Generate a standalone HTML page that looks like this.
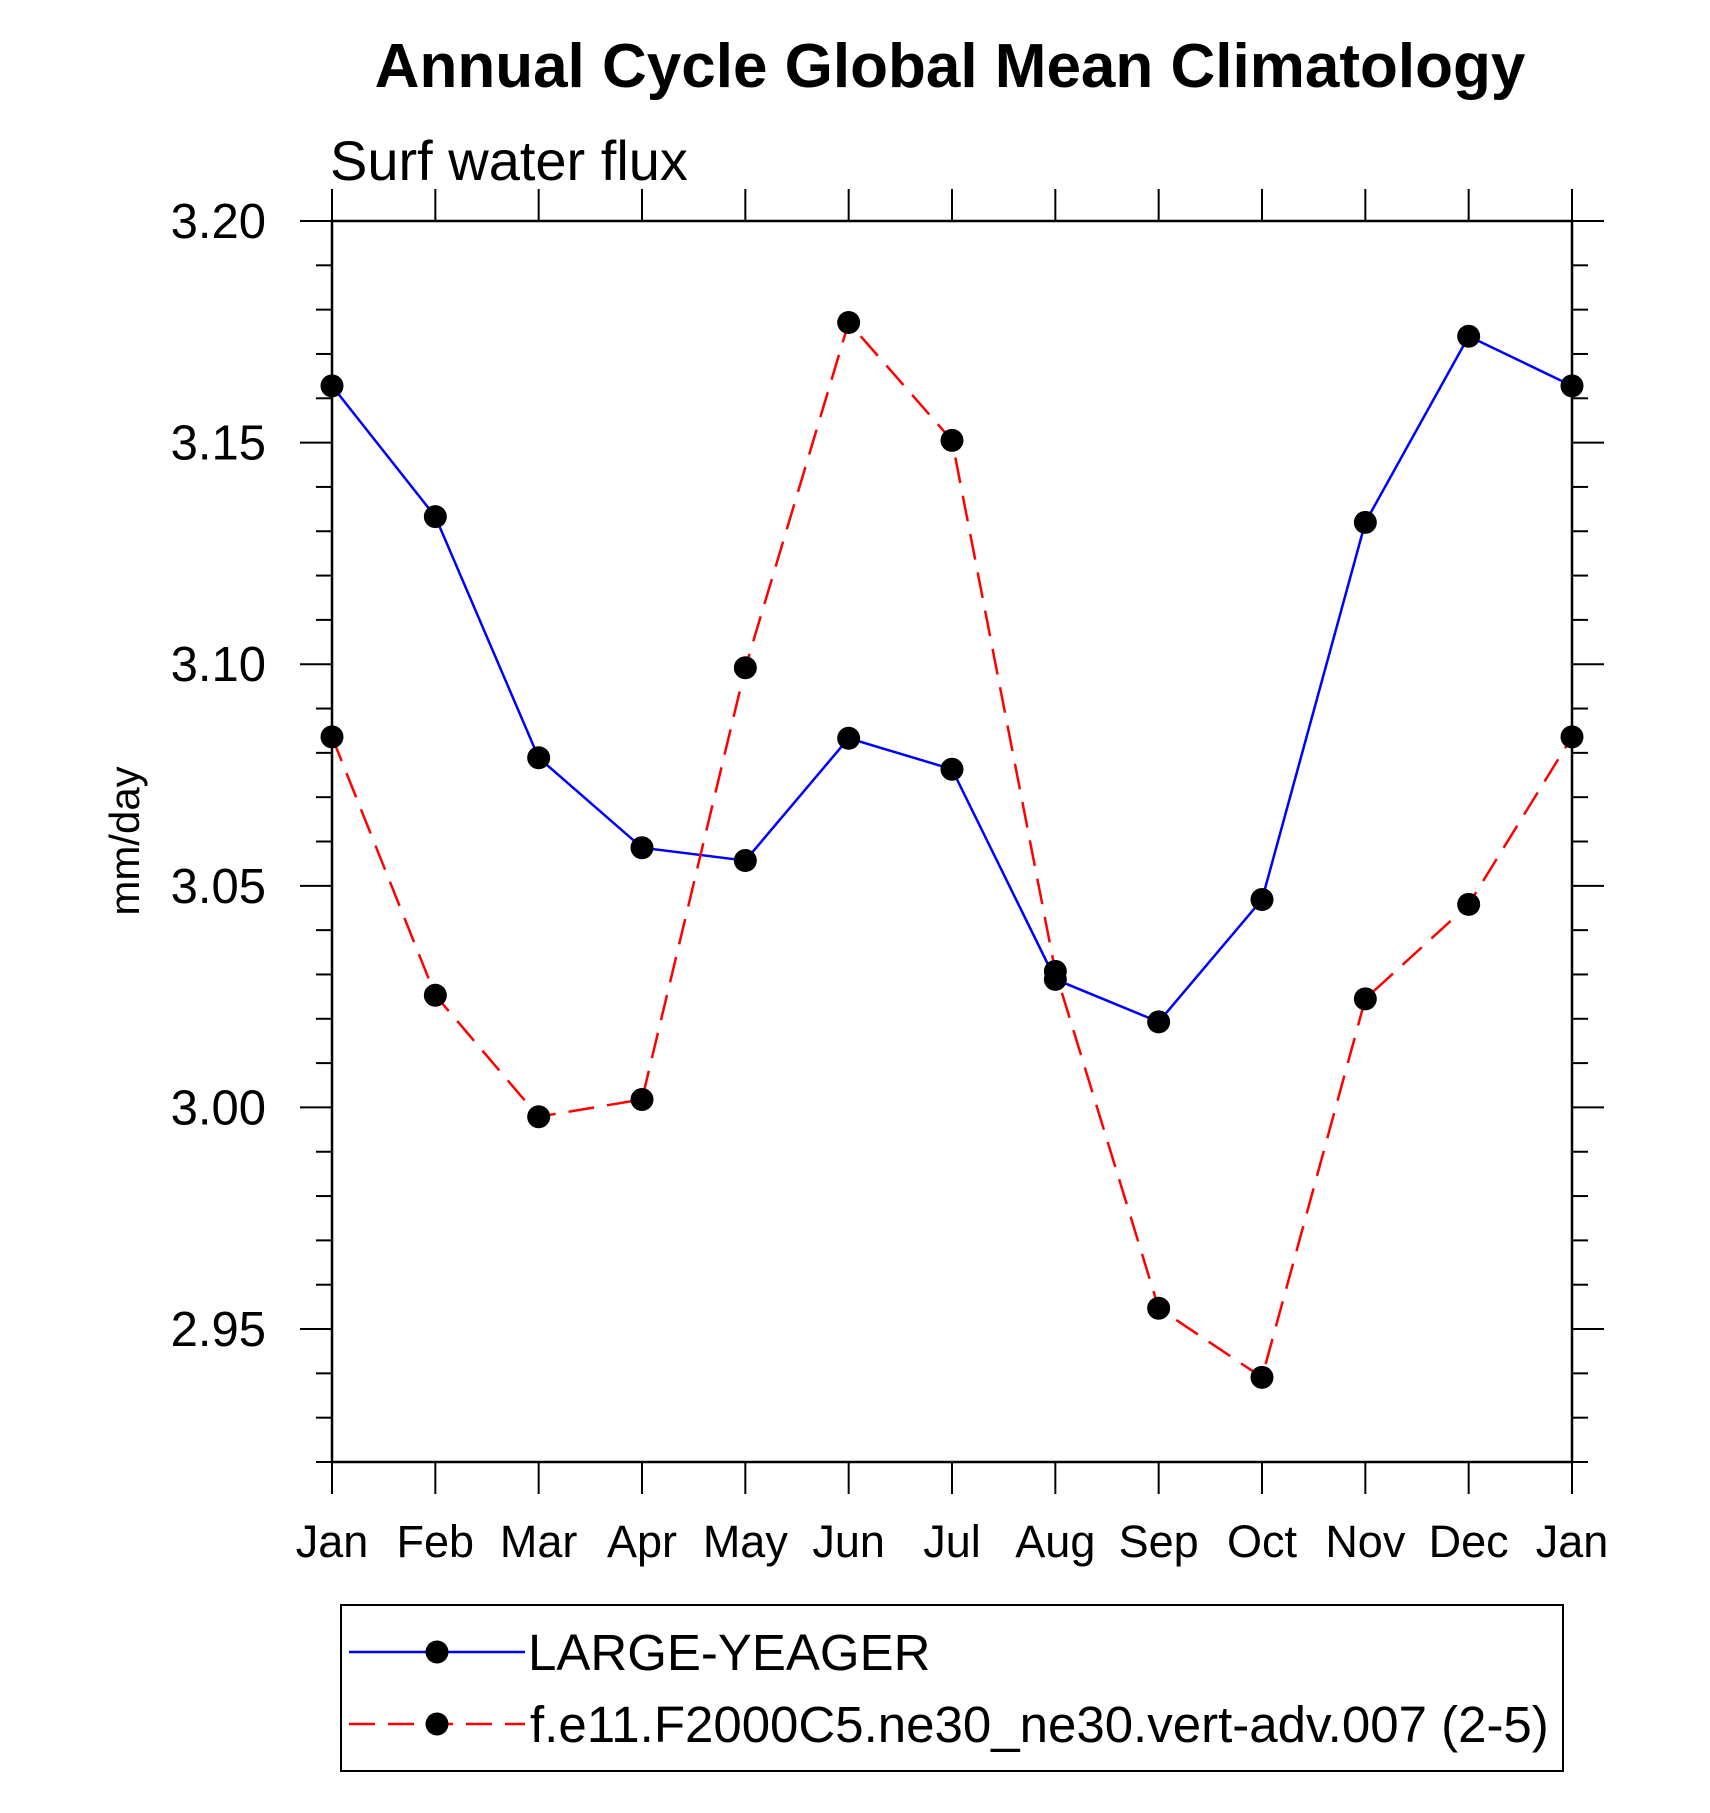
<!DOCTYPE html>
<html><head><meta charset="utf-8"><style>body{margin:0;background:#fff}svg{display:block}text{font-family:"Liberation Sans",sans-serif}</style></head>
<body>
<svg id="chart" width="1710" height="1813" xmlns="http://www.w3.org/2000/svg">
<text x="950" y="87" font-size="62" font-weight="bold" text-anchor="middle">Annual Cycle Global Mean Climatology</text>
<text x="330" y="180" font-size="56">Surf water flux</text>
<text transform="translate(139,841) rotate(-90)" font-size="42" text-anchor="middle">mm/day</text>
<g id="plot"></g>
<g>
<rect x="341" y="1605" width="1222" height="166" fill="none" stroke="#000" stroke-width="2"/>
<line x1="349" y1="1652" x2="525" y2="1652" stroke="#0000ff" stroke-width="2.5"/>
<circle cx="437" cy="1652" r="11.5" fill="#000"/>
<text x="528" y="1670" font-size="51">LARGE-YEAGER</text>
<line x1="349" y1="1724" x2="525" y2="1724" stroke="#ff0000" stroke-width="2.5" stroke-dasharray="26,13"/>
<circle cx="437" cy="1724" r="11.5" fill="#000"/>
<text x="530" y="1742" font-size="51">f.e11.F2000C5.ne30_ne30.vert-adv.007 (2-5)</text>
</g>
</svg>
<script>
const months = ["Jan","Feb","Mar","Apr","May","Jun","Jul","Aug","Sep","Oct","Nov","Dec","Jan"];
const largeYeager = [3.1628,3.1333,3.0789,3.0586,3.0557,3.0833,3.0763,3.0289,3.0193,3.0469,3.1320,3.1740,3.1628];
const vertAdv = [3.0836,3.0253,2.9979,3.0018,3.0992,3.1771,3.1505,3.0307,2.9547,2.9391,3.0245,3.0458,3.0836];
const yTickLabels = ["2.95","3.00","3.05","3.10","3.15","3.20"];
const yMin = 2.92, yMax = 3.20;

const NS = "http://www.w3.org/2000/svg";
const L = 332, R = 1572, T = 221, B = 1462;
const xs = i => L + (R - L) * i / (months.length - 1);
const ys = v => B - (B - T) * (v - yMin) / (yMax - yMin);
const g = document.getElementById('plot');
function mk(tag, attrs) { const e = document.createElementNS(NS, tag); for (const k in attrs) e.setAttribute(k, attrs[k]); g.appendChild(e); return e; }

for (let k = 0; k <= Math.round((yMax - yMin) / 0.01); k++) {
  const v = yMin + k * 0.01, y = ys(v);
  const r5 = Math.round(v * 100) % 5;
  const major = r5 === 0;
  const len = major ? 32 : 16;
  const t1 = mk('line', {x1: L - len, y1: y, x2: L, y2: y, stroke: '#000', 'stroke-width': 2});
  
  
  const t2 = mk('line', {x1: R, y1: y, x2: R + len, y2: y, stroke: '#000', 'stroke-width': 2});
  
  
}
yTickLabels.forEach(s => {
  const t = mk('text', {x: 266, y: ys(parseFloat(s)) + 17, 'font-size': 49, 'text-anchor': 'end'});
  t.textContent = s;
  
  
});
months.forEach((m, i) => {
  const x = xs(i);
  const a = mk('line', {x1: x, y1: T - 32, x2: x, y2: T, stroke: '#000', 'stroke-width': 2});
  
  
  const b = mk('line', {x1: x, y1: B, x2: x, y2: B + 32, stroke: '#000', 'stroke-width': 2});
  
  
  const t = mk('text', {x: x, y: 1557, 'font-size': 45, 'text-anchor': 'middle'});
  t.textContent = m;
  
  
});
const frame = mk('rect', {x: L, y: T, width: R - L, height: B - T, fill: 'none', stroke: '#000', 'stroke-width': 2.5});



function series(vals, color, dash, name) {
  const p = mk('polyline', {points: vals.map((v, i) => xs(i) + ',' + ys(v)).join(' '), fill: 'none', stroke: color, 'stroke-width': 2.5});
  if (dash) p.setAttribute('stroke-dasharray', dash);
  
  
  vals.forEach((v, i) => {
    const c = mk('circle', {cx: xs(i), cy: ys(v), r: 11.5, fill: '#000'});
    
    
  });
}
series(largeYeager, '#0000ff', null, 'large-yeager');
series(vertAdv, '#ff0000', '26,13', 'vert-adv');
</script>
</body></html>
